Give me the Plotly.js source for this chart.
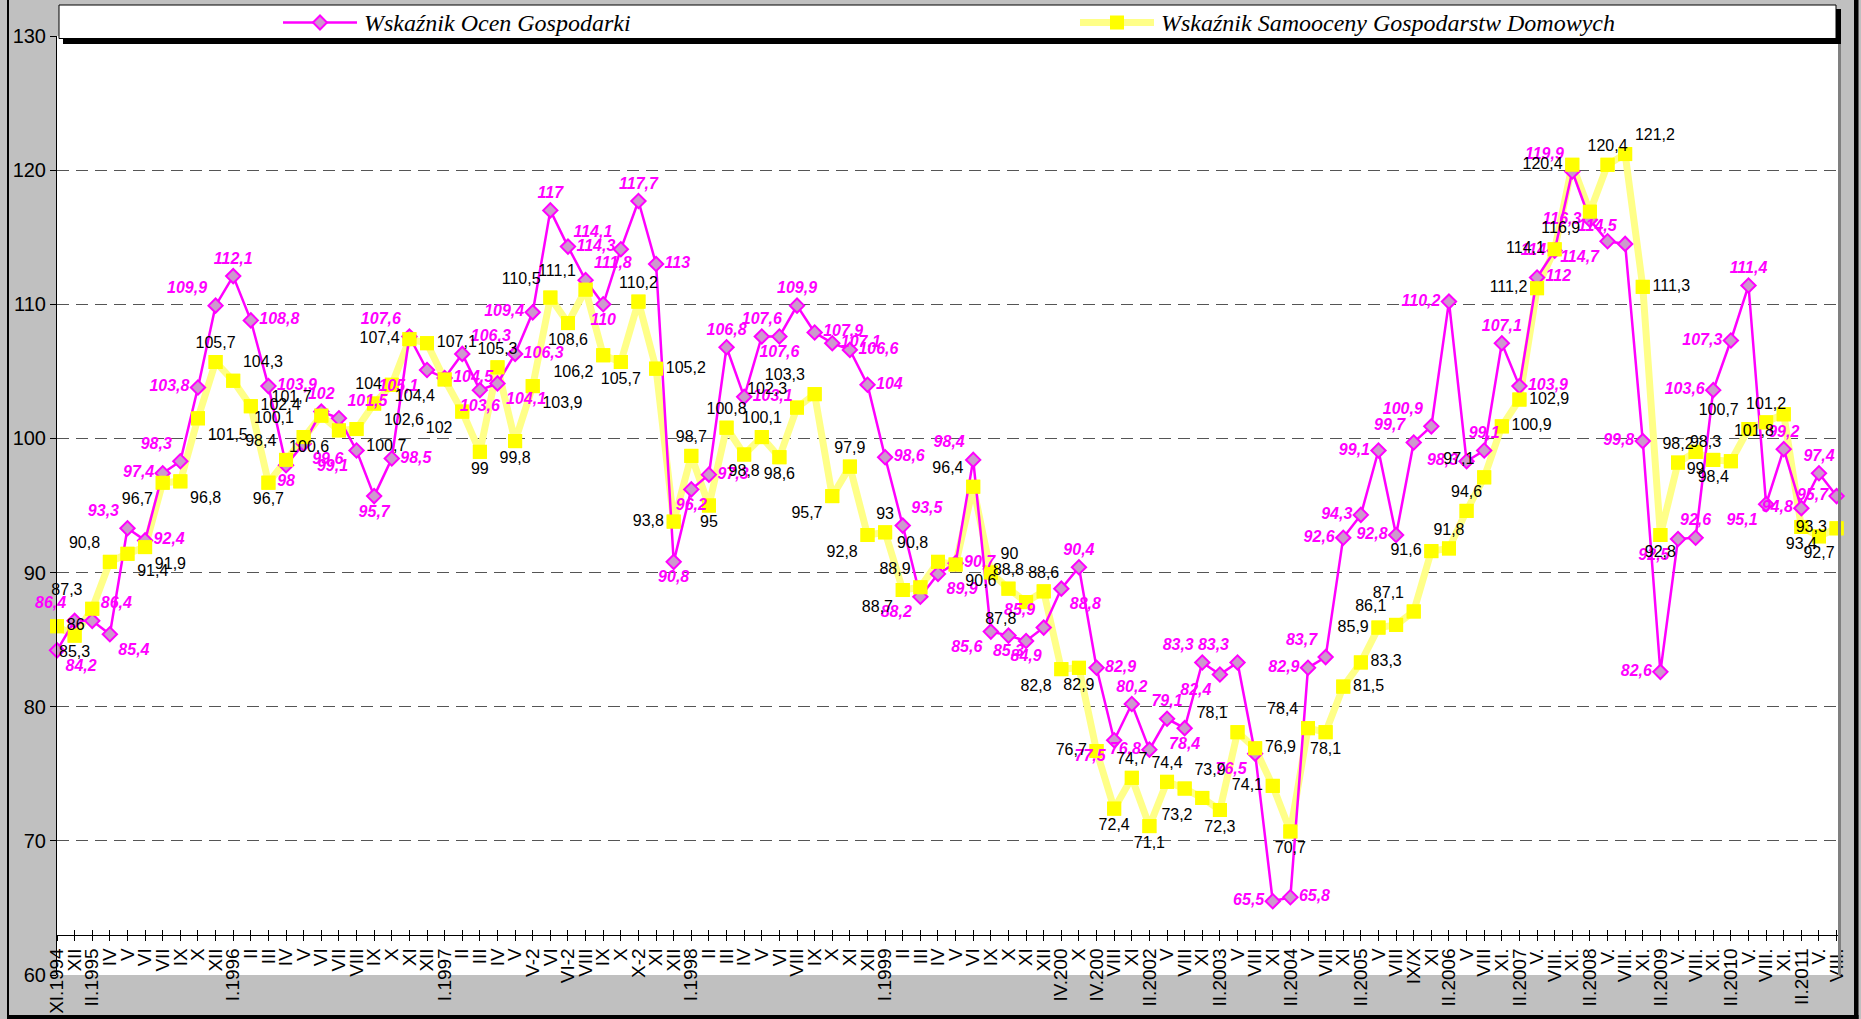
<!DOCTYPE html>
<html>
<head>
<meta charset="utf-8">
<script src="https://cdn.plot.ly/plotly-3.0.1.min.js"></script>
<style>
  html, body { margin: 0; padding: 0; background: #c0c0c0; }
  #chart { width: 1861px; height: 1019px; }
</style>
</head>
<body>
<div id="chart"></div>
<script>
// Okresy badań (oś X)
const months = [
  'XI.1994', 'XII', 'II.1995', 'IV', 'V', 'VI', 'VII', 'IX', 'X', 'XII',
  'I.1996', 'II', 'III', 'IV', 'V', 'VI', 'VII', 'VIII', 'IX', 'X',
  'XI', 'XII', 'I.1997', 'II', 'III', 'IV', 'V', 'V-2', 'VI', 'VI-2',
  'VIII', 'IX', 'X', 'X-2', 'XI', 'XII', 'I.1998', 'II', 'III', 'IV',
  'V', 'VI', 'VIII', 'IX', 'X', 'XI', 'XII', 'I.1999', 'II', 'III',
  'IV', 'V', 'VI', 'IX', 'X', 'XI', 'XII', 'IV.200', 'X', 'IV.200',
  'VIII', 'XI', 'II.2002', 'V', 'VIII', 'XI', 'II.2003', 'V', 'VIII', 'XI',
  'II.2004', 'V', 'VIII', 'XI', 'II.2005', 'V', 'VIII', 'IX/X', 'XI', 'II.2006',
  'V', 'VIII', 'XI.', 'II.2007', 'V.', 'VIII.', 'XI.', 'II.2008', 'V.', 'VIII.',
  'XI.', 'II.2009', 'V.', 'VIII.', 'XI.', 'II.2010', 'V.', 'VIII.', 'XI.', 'II.2011',
  'V.', 'VIII.'
];

// Wskaźnik Ocen Gospodarki
const ocenGospodarki = [
  84.2, 86.4, 86.4, 85.4, 93.3, 92.4, 97.4, 98.3, 103.8, 109.9,
  112.1, 108.8, 103.9, 98, 99.6, 102, 101.5, 99.1, 95.7, 98.5,
  107.6, 105.1, 104.5, 106.3, 103.6, 104.1, 106.3, 109.4, 117, 114.3,
  111.8, 110, 114.1, 117.7, 113, 90.8, 96.2, 97.3, 106.8, 103.1,
  107.6, 107.6, 109.9, 107.9, 107.1, 106.6, 104, 98.6, 93.5, 88.2,
  89.9, 90.7, 98.4, 85.6, 85.3, 84.9, 85.9, 88.8, 90.4, 82.9,
  77.5, 80.2, 76.8, 79.1, 78.4, 83.3, 82.4, 83.3, 76.5, 65.5,
  65.8, 82.9, 83.7, 92.6, 94.3, 99.1, 92.8, 99.7, 100.9, 110.2,
  98.3, 99.1, 107.1, 103.9, 112, 114, 119.9, 116.3, 114.7, 114.5,
  99.8, 82.6, 92.5, 92.6, 103.6, 107.3, 111.4, 95.1, 99.2, 94.8,
  97.4, 95.7
];

// Wskaźnik Samooceny Gospodarstw Domowych
const samoocenyGospodarstw = [
  86, 85.3, 87.3, 90.8, 91.4, 91.9, 96.7, 96.8, 101.5, 105.7,
  104.3, 102.4, 96.7, 98.4, 100.1, 101.7, 100.6, 100.7, 102.6, 104,
  107.4, 107.1, 104.4, 102, 99, 105.3, 99.8, 103.9, 110.5, 108.6,
  111.1, 106.2, 105.7, 110.2, 105.2, 93.8, 98.7, 95, 100.8, 98.8,
  100.1, 98.6, 102.3, 103.3, 95.7, 97.9, 92.8, 93, 88.7, 88.9,
  90.8, 90.6, 96.4, 90, 88.8, 87.8, 88.6, 82.8, 82.9, 76.7,
  72.4, 74.7, 71.1, 74.4, 73.9, 73.2, 72.3, 78.1, 76.9, 74.1,
  70.7, 78.4, 78.1, 81.5, 83.3, 85.9, 86.1, 87.1, 91.6, 91.8,
  94.6, 97.1, 100.9, 102.9, 111.2, 114.1, 120.4, 116.9, 120.4, 121.2,
  111.3, 92.8, 98.2, 99, 98.4, 98.3, 100.7, 101.2, 101.8, 93.4,
  92.7, 93.3
];

// Położenie etykiet danych przy punktach (jak w oryginale)
const ocenLabelPos = [
  'BR','TL','TR','BR','TL','R','L','TL','L','TL',
  'T','R','R','B','BR','T','TR','BL','B','R',
  'TL','BL','R','TR','B','BR','R','L','T','R',
  'TR','B','TL','T','R','B','B','R','T','R',
  'T','B','T','R','R','R','R','R','TR','BL',
  'BR','R','TL','BL','B','B','TL','BR','T','R',
  'BL','T','L','T','B','TL','BL','TL','BL','L',
  'R','L','TL','L','L','L','L','TL','TL','L',
  'L','T','T','R','R','L','TL','L','BL','TL',
  'L','L','BL','T','L','L','T','BL','T','L',
  'T','L'
];
const samoLabelPos = [
  'R','B','TL','TL','BR','BR','BL','BR','BR','T',
  'TR','R','B','TL','TL','TL','BL','BR','BR','L',
  'L','R','BL','BL','B','T','B','BR','TL','B',
  'TL','BL','B','T','R','L','T','B','T','B',
  'T','B','TL','TL','BL','T','BL','T','BL','TL',
  'TL','BR','TL','TR','T','BL','T','BL','B','L',
  'B','T','B','T','TR','BL','B','TL','R','L',
  'B','TL','B','R','R','L','TL','TL','L','T',
  'T','TL','R','R','L','L','L','BL','T','TR',
  'R','B','T','B','B','TL','TL','T','BL','B',
  'B','L'
];
const posNames = {
  T: 'top center', TL: 'top left', TR: 'top right',
  L: 'middle left', R: 'middle right',
  B: 'bottom center', BL: 'bottom left', BR: 'bottom right'
};

const xIdx = months.map((m, i) => i);
const fmt = v => String(v).replace('.', ',');

// Geometria w pikselach
const W = 1861, H = 1019;
const M = {l: 57, r: 23, t: 36, b: 44};
const PW = W - M.l - M.r, PH = H - M.t - M.b;
const px = x => (x - M.l) / PW;
const py = y => (H - M.b - y) / PH;

const MAGENTA = '#ff00ff';
const YELLOW_LINE = '#ffff88';
const YELLOW = '#ffff00';
const NAME_OCEN = 'Wskaźnik Ocen Gospodarki';
const NAME_SAMO = 'Wskaźnik Samooceny Gospodarstw Domowych';

const traceSamoLine = {
  x: xIdx, y: samoocenyGospodarstw, name: NAME_SAMO,
  mode: 'lines+markers', cliponaxis: false, hoverinfo: 'skip', showlegend: false,
  line: {color: YELLOW_LINE, width: 7},
  marker: {symbol: 'square', size: 14, color: YELLOW}
};

const traceOcen = {
  x: xIdx, y: ocenGospodarki, name: NAME_OCEN,
  mode: 'lines+markers', cliponaxis: false, hoverinfo: 'skip', showlegend: false,
  line: {color: MAGENTA, width: 2.5},
  marker: {symbol: 'diamond', size: 11, color: '#cc99cc', line: {color: MAGENTA, width: 2}}
};

// kwadraty ponownie, aby leżały nad linią różową
const traceSamoMarkers = {
  x: xIdx, y: samoocenyGospodarstw, mode: 'markers',
  cliponaxis: false, hoverinfo: 'skip', showlegend: false,
  marker: {symbol: 'square', size: 14, color: YELLOW}
};

const traceOcenText = {
  x: xIdx, y: ocenGospodarki, mode: 'markers+text',
  text: ocenGospodarki.map(fmt),
  textposition: ocenLabelPos.map(p => posNames[p]),
  textfont: {family: 'Liberation Sans, Arial', size: 16, color: MAGENTA, weight: 'bold', style: 'italic'},
  marker: {size: 12, opacity: 0},
  cliponaxis: false, hoverinfo: 'skip', showlegend: false
};

const traceSamoText = {
  x: xIdx, y: samoocenyGospodarstw, mode: 'markers+text',
  text: samoocenyGospodarstw.map(fmt),
  textposition: samoLabelPos.map(p => posNames[p]),
  textfont: {family: 'Liberation Sans, Arial', size: 16, color: '#000000'},
  marker: {size: 14, opacity: 0},
  cliponaxis: false, hoverinfo: 'skip', showlegend: false
};

// pusta seria dla drugiej osi X (kreski skierowane do środka)
const traceTicks = {
  x: xIdx, y: xIdx.map(() => null), xaxis: 'x2', yaxis: 'y',
  mode: 'lines', hoverinfo: 'skip', showlegend: false
};

const xRange = [0, 101.08];
const axisPos = 3 / 70; // oś X przecina oś Y przy wartości 63

// Legenda rysowana ręcznie
const legY = 22.5;
const leg1 = 283;   // początek próbki linii, seria 1
const leg2 = 1080;  // początek próbki linii, seria 2
const shapes = [
  // ramka wykresu
  {type: 'line', xref: 'paper', yref: 'paper', x0: px(8), x1: px(8), y0: py(0), y1: py(H),
    line: {color: '#000', width: 2}},
  {type: 'rect', xref: 'paper', yref: 'paper', x0: px(1854), x1: px(1858.5), y0: py(H), y1: py(0),
    fillcolor: '#000', line: {width: 0}},
  {type: 'rect', xref: 'paper', yref: 'paper', x0: px(8), x1: px(1858.5), y0: py(H), y1: py(1015),
    fillcolor: '#000', line: {width: 0}},
  // cień po prawej stronie obszaru kreślenia
  {type: 'rect', xref: 'paper', yref: 'paper', x0: px(1838), x1: px(1841), y0: py(H - M.b), y1: py(44),
    fillcolor: '#808080', line: {width: 0}},
  // pole legendy z cieniem
  {type: 'rect', xref: 'paper', yref: 'paper', x0: px(63), x1: px(1841), y0: py(44), y1: py(9),
    fillcolor: '#000', line: {width: 0}, layer: 'above'},
  {type: 'rect', xref: 'paper', yref: 'paper', x0: px(59), x1: px(1836), y0: py(38.5), y1: py(5),
    fillcolor: '#ffffff', line: {color: '#000', width: 1}, layer: 'above'},
  // symbol: Wskaźnik Ocen Gospodarki
  {type: 'line', xref: 'paper', yref: 'paper', x0: px(leg1), x1: px(leg1 + 74), y0: py(legY), y1: py(legY),
    line: {color: MAGENTA, width: 2.5}, layer: 'above'},
  {type: 'path', xref: 'paper', yref: 'paper', layer: 'above',
    path: 'M' + px(leg1 + 30) + ',' + py(legY) + ' L' + px(leg1 + 37) + ',' + py(legY - 7) +
          ' L' + px(leg1 + 44) + ',' + py(legY) + ' L' + px(leg1 + 37) + ',' + py(legY + 7) + ' Z',
    fillcolor: '#cc99cc', line: {color: MAGENTA, width: 2}},
  // symbol: Wskaźnik Samooceny Gospodarstw Domowych
  {type: 'line', xref: 'paper', yref: 'paper', x0: px(leg2), x1: px(leg2 + 74), y0: py(legY), y1: py(legY),
    line: {color: YELLOW_LINE, width: 7}, layer: 'above'},
  {type: 'rect', xref: 'paper', yref: 'paper', x0: px(leg2 + 30), x1: px(leg2 + 44), y0: py(legY + 7), y1: py(legY - 7),
    fillcolor: YELLOW, line: {width: 0}, layer: 'above'}
];

const legendFont = {family: 'Liberation Serif, Times New Roman', size: 24, color: '#000', style: 'italic'};
const annotations = [
  {xref: 'paper', yref: 'paper', x: px(leg1 + 79), y: py(legY), xanchor: 'left', yanchor: 'middle',
    text: NAME_OCEN, showarrow: false, font: legendFont},
  {xref: 'paper', yref: 'paper', x: px(leg2 + 79), y: py(legY), xanchor: 'left', yanchor: 'middle',
    text: NAME_SAMO, showarrow: false, font: legendFont}
];

const layout = {
  width: W, height: H,
  paper_bgcolor: '#c0c0c0',
  plot_bgcolor: '#ffffff',
  margin: {l: M.l, r: M.r, t: M.t, b: M.b, pad: 0},
  showlegend: false,
  hovermode: false,
  xaxis: {
    range: xRange, tickmode: 'array', tickvals: xIdx, ticktext: months, tickangle: -90,
    anchor: 'free', position: axisPos,
    showline: true, linecolor: '#000', linewidth: 1,
    ticks: 'outside', ticklen: 5, tickcolor: '#000',
    showgrid: false, zeroline: false,
    tickfont: {family: 'Liberation Sans, Arial', size: 19, color: '#000'}
  },
  xaxis2: {
    range: xRange, overlaying: 'x', anchor: 'free', position: axisPos,
    tickmode: 'array', tickvals: xIdx, showticklabels: false,
    ticks: 'inside', ticklen: 5, tickcolor: '#000',
    showline: false, showgrid: false, zeroline: false
  },
  yaxis: {
    range: [60, 130], tick0: 60, dtick: 10,
    showline: true, linecolor: '#000', linewidth: 1,
    ticks: 'outside', ticklen: 6, tickcolor: '#000',
    showgrid: true, gridcolor: '#555555', gridwidth: 1, griddash: '12px,7px',
    zeroline: false,
    tickfont: {family: 'Liberation Sans, Arial', size: 20, color: '#000'}
  },
  shapes: shapes,
  annotations: annotations
};

Plotly.newPlot('chart',
  [traceSamoLine, traceOcen, traceSamoMarkers, traceOcenText, traceSamoText, traceTicks],
  layout, {staticPlot: true, displayModeBar: false});
</script>
</body>
</html>
